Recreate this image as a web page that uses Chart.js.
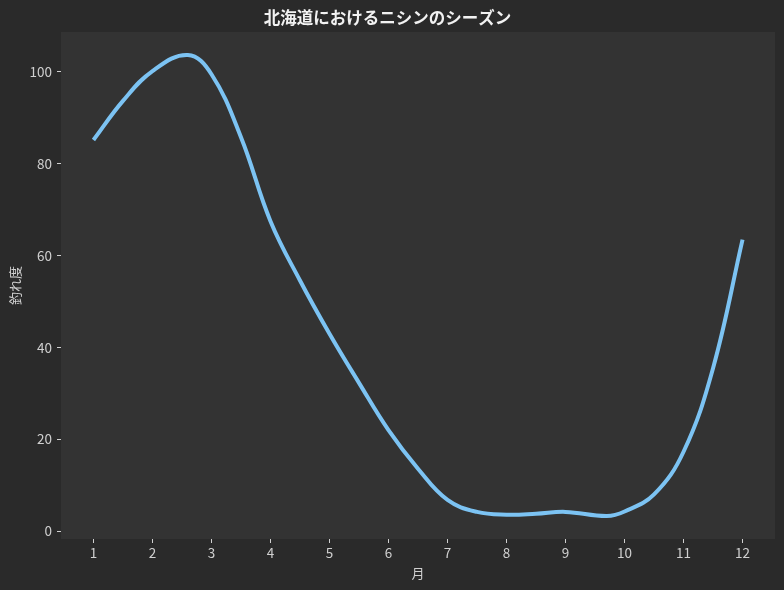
<!DOCTYPE html>
<html>
<head>
<meta charset="utf-8">
<script src="https://cdn.jsdelivr.net/npm/chart.js@4"></script>
<style>
  html, body { margin: 0; padding: 0; background: #2a2a2a; }
  #wrap { width: 784px; height: 590px; }
</style>
</head>
<body>
<div id="wrap"><canvas id="herringChart"></canvas></div>
<script>
/* ニシンのシーズン chart */

const months = [1, 1.5, 2, 2.6, 3, 3.5, 4, 4.5, 5, 5.5, 6, 6.5, 7, 7.5, 8, 8.5, 9, 9.7, 10, 10.5, 11, 11.5, 12];
const catchLevel = [85.2, 93.7, 100.2, 103.7, 99.5, 85.8, 67.5, 54.6, 43, 32.3, 22, 13.6, 6.8, 4.2, 3.6, 3.8, 4.2, 3.3, 4.3, 8.0, 17.3, 35.5, 63.5];
const xTicks = [1, 2, 3, 4, 5, 6, 7, 8, 9, 10, 11, 12];
const yTicks = [0, 20, 40, 60, 80, 100];

const FONT = "'Noto Sans CJK JP', 'Noto Sans', sans-serif";
const TEXT = "#d0d0d0";

const plotBg = {
  id: "plotBg",
  beforeDraw(chart) {
    const { ctx, chartArea: a } = chart;
    ctx.save();
    ctx.fillStyle = "#2a2a2a";
    ctx.fillRect(0, 0, chart.width, chart.height);
    ctx.fillStyle = "#333333";
    ctx.fillRect(a.left, a.top, a.right - a.left, a.bottom - a.top);
    ctx.restore();
  },
};

const axisGrid = {
  display: true,
  drawOnChartArea: false,
  drawTicks: true,
  tickLength: 4,
  tickWidth: 1,
  tickColor: "#d0d0d0",
};

new Chart(document.getElementById("herringChart"), {
  type: "line",
  data: {
    datasets: [{
      label: "釣れ度",
      data: months.map((m, i) => ({ x: m, y: catchLevel[i] })),
      borderColor: "#7cc3f3",
      borderWidth: 4,
      borderCapStyle: "butt",
      tension: 0.4,
      pointRadius: 0,
      fill: false,
    }],
  },
  options: {
    responsive: true,
    maintainAspectRatio: false,
    animation: false,
    layout: { padding: { left: 0, right: 9, top: 0, bottom: 0 } },
    plugins: {
      legend: { display: false },
      tooltip: { enabled: false },
      title: {
        display: true,
        text: "北海道におけるニシンのシーズン",
        color: "#f2f2f2",
        font: { family: FONT, size: 16.5, weight: "bold", lineHeight: 1.2 },
        padding: { top: 7.6, bottom: 4.6 },
      },
    },
    scales: {
      x: {
        type: "linear",
        min: 0.45,
        max: 12.55,
        border: { display: false },
        grid: axisGrid,
        afterBuildTicks: (s) => { s.ticks = xTicks.map((v) => ({ value: v })); },
        afterFit: (s) => { s.height = 51; },
        ticks: { color: TEXT, padding: 2, maxRotation: 0, font: { family: FONT, size: 13.5 } },
        title: {
          display: true,
          text: "月",
          color: TEXT,
          padding: { top: 0, bottom: 9.2 },
          font: { family: FONT, size: 13, lineHeight: 1.2 },
        },
      },
      y: {
        min: -1.7,
        max: 108.7,
        border: { display: false },
        grid: axisGrid,
        afterBuildTicks: (s) => { s.ticks = yTicks.map((v) => ({ value: v })); },
        afterFit: (s) => { s.width = 61; },
        ticks: { color: TEXT, padding: 5, font: { family: FONT, size: 13.5 } },
        title: {
          display: true,
          text: "釣れ度",
          color: TEXT,
          padding: { top: 7.2, bottom: 0 },
          font: { family: FONT, size: 13, lineHeight: 1.2 },
        },
      },
    },
  },
  plugins: [plotBg],
});
</script>
</body>
</html>
